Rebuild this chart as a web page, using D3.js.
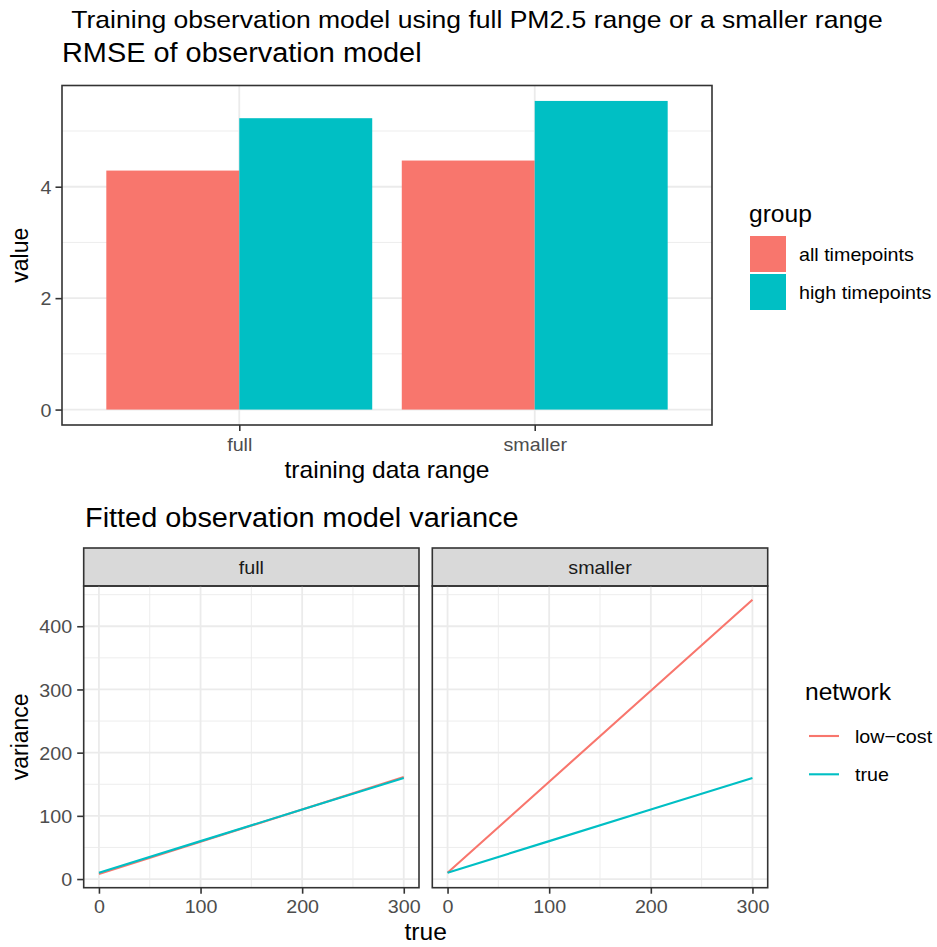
<!DOCTYPE html>
<html>
<head>
<meta charset="utf-8">
<script src="https://cdn.jsdelivr.net/npm/d3@7"></script>
<style>
  body { margin: 0; background: #fff; }
  text { font-family: "Liberation Sans", Arial, Helvetica, sans-serif; }
</style>
</head>
<body>
<svg id="chart" width="937" height="947"></svg>
<script>
// ---- RMSE bar chart ----
const rangeCategories = ["full", "smaller"];
const rmseGroups = ["all timepoints", "high timepoints"];
const rmseAllTimepoints = [4.29, 4.47];
const rmseHighTimepoints = [5.23, 5.54];
const rmseTicks = [0, 2, 4];
const rmseMinorTicks = [1, 3, 5];

// ---- Fitted variance lines (faceted by training range) ----
const facetNames = ["full", "smaller"];
const networks = ["low\u2212cost", "true"];
const trueValues = [0, 100, 200, 300];
const varianceFullLowCost = [8, 59, 110, 161.5];
const varianceFullTrue = [10, 60, 110, 160];
const varianceSmallerLowCost = [10, 154, 298, 442];
const varianceSmallerTrue = [10, 60, 110, 160];
const varianceXTicks = [0, 100, 200, 300];
const varianceXMinorTicks = [50, 150, 250];
const varianceYTicks = [0, 100, 200, 300, 400];
const varianceYMinorTicks = [50, 150, 250, 350, 450];

const colours = ["#F8766D", "#00BFC4"];
const SX = 1.07;            // horizontal glyph stretch used for all text
const FS = { top: 24.8, title: 27, axisTitle: 23, tick: 18.4 };
const GRID_MAJOR = "#EBEBEB", BORDER = "#333333", TICK_TEXT = "#4D4D4D";

const svg = d3.select("#chart");

function label(parent, x, y, str, opt) {
  const o = Object.assign({ size: FS.tick, anchor: "start", fill: "#000", rotate: false }, opt);
  return parent.append("text")
    .attr("transform", `translate(${x},${y}) scale(${SX},1)` + (o.rotate ? " rotate(-90)" : ""))
    .attr("text-anchor", o.anchor)
    .attr("font-size", o.size)
    .attr("fill", o.fill)
    .text(str);
}

function expandDomain(lo, hi) {
  const pad = (hi - lo) * 0.05;
  return [lo - pad, hi + pad];
}

function styleAxis(g, side) {
  g.select(".domain").remove();
  g.selectAll(".tick line").attr("stroke", BORDER).attr("stroke-width", 1.6);
  g.selectAll(".tick text")
    .attr("fill", TICK_TEXT)
    .attr("font-size", FS.tick)
    .attr("font-family", null);
  if (side === "left") {
    g.selectAll(".tick text").each(function () {
      const t = d3.select(this);
      const x = +t.attr("x");
      t.attr("x", x / SX).attr("dy", "0.36em").attr("transform", `scale(${SX},1)`);
    });
  } else {
    g.selectAll(".tick text").attr("transform", `scale(${SX},1)`);
  }
}

// overall heading
label(svg, 477, 27.5, "Training observation model using full PM2.5 range or a smaller range",
  { size: FS.top, anchor: "middle" });

// ================= top: RMSE bars =================
const P1 = { left: 62, right: 712, top: 85.5, bottom: 425 };
const barPlot = svg.append("g");

const x1 = d3.scaleLinear().domain([0.4, rangeCategories.length + 0.6]).range([P1.left, P1.right]);
const rmseMax = d3.max(rmseAllTimepoints.concat(rmseHighTimepoints));
const y1 = d3.scaleLinear().domain(expandDomain(0, rmseMax)).range([P1.bottom, P1.top]);

label(barPlot, 62, 62, "RMSE of observation model", { size: FS.title });

const grid1 = barPlot.append("g");
grid1.selectAll("line.minor").data(rmseMinorTicks).join("line")
  .attr("x1", P1.left).attr("x2", P1.right)
  .attr("y1", d => y1(d)).attr("y2", d => y1(d))
  .attr("stroke", GRID_MAJOR).attr("stroke-width", 0.9);
grid1.selectAll("line.majorY").data(rmseTicks).join("line")
  .attr("x1", P1.left).attr("x2", P1.right)
  .attr("y1", d => y1(d)).attr("y2", d => y1(d))
  .attr("stroke", GRID_MAJOR).attr("stroke-width", 1.8);
grid1.selectAll("line.majorX").data(rangeCategories).join("line")
  .attr("x1", (d, i) => x1(i + 1)).attr("x2", (d, i) => x1(i + 1))
  .attr("y1", P1.top).attr("y2", P1.bottom)
  .attr("stroke", GRID_MAJOR).attr("stroke-width", 1.8);

// dodged bars: each category has width 0.9 split between the two groups
const barRows = [];
rangeCategories.forEach((c, i) => {
  barRows.push({ i, g: 0, v: rmseAllTimepoints[i] });
  barRows.push({ i, g: 1, v: rmseHighTimepoints[i] });
});
barPlot.append("g").selectAll("rect").data(barRows).join("rect")
  .attr("x", d => x1(d.i + 1 - 0.45 + d.g * 0.45))
  .attr("width", d => x1(d.i + 1 - 0.45 + (d.g + 1) * 0.45) - x1(d.i + 1 - 0.45 + d.g * 0.45))
  .attr("y", d => y1(d.v))
  .attr("height", d => y1(0) - y1(d.v))
  .attr("fill", d => colours[d.g]);

barPlot.append("rect")
  .attr("x", P1.left).attr("y", P1.top)
  .attr("width", P1.right - P1.left).attr("height", P1.bottom - P1.top)
  .attr("fill", "none").attr("stroke", BORDER).attr("stroke-width", 1.6);

const ax1y = barPlot.append("g").attr("transform", `translate(${P1.left},0)`)
  .call(d3.axisLeft(y1).tickValues(rmseTicks).tickSize(6.5).tickPadding(4).tickFormat(d3.format("d")));
styleAxis(ax1y, "left");
const ax1x = barPlot.append("g").attr("transform", `translate(0,${P1.bottom})`)
  .call(d3.axisBottom(x1).tickValues(rangeCategories.map((c, i) => i + 1))
    .tickSize(6).tickPadding(7).tickFormat(d => rangeCategories[d - 1]));
styleAxis(ax1x, "bottom");

label(barPlot, (P1.left + P1.right) / 2, 478, "training data range", { size: FS.axisTitle, anchor: "middle" });
label(barPlot, 28, (P1.top + P1.bottom) / 2, "value", { size: FS.axisTitle, anchor: "middle", rotate: true });

// legend: group
const leg1 = barPlot.append("g");
label(leg1, 749, 222, "group", { size: FS.axisTitle });
rmseGroups.forEach((g, j) => {
  const y0 = 236 + j * 38;
  leg1.append("rect").attr("x", 750).attr("y", y0).attr("width", 36).attr("height", 36)
    .attr("fill", colours[j]);
  label(leg1, 799, y0 + 18 + 6.6, g, { size: FS.tick });
});

// ================= bottom: fitted variance =================
const P2 = { top: 586, bottom: 887.7, stripTop: 548 };
const panelX = [[83.7, 419], [432.3, 767.7]];
const linePlot = svg.append("g");

label(linePlot, 85, 527, "Fitted observation model variance", { size: FS.title });

const series = [
  [varianceFullLowCost, varianceFullTrue],
  [varianceSmallerLowCost, varianceSmallerTrue]
];
const allVar = series.flat(2);
const y2 = d3.scaleLinear().domain(expandDomain(d3.min(allVar), d3.max(allVar))).range([P2.bottom, P2.top]);

facetNames.forEach((name, f) => {
  const [L, R] = panelX[f];
  const x2 = d3.scaleLinear().domain(expandDomain(d3.min(trueValues), d3.max(trueValues))).range([L, R]);
  const p = linePlot.append("g");

  // strip
  p.append("rect").attr("x", L).attr("y", P2.stripTop).attr("width", R - L).attr("height", P2.top - P2.stripTop)
    .attr("fill", "#D9D9D9").attr("stroke", BORDER).attr("stroke-width", 1.6);
  label(p, (L + R) / 2, 573.5, name, { size: FS.tick, anchor: "middle", fill: "#1A1A1A" });

  // grid
  p.selectAll("line.ymin").data(varianceYMinorTicks.filter(d => y2(d) > P2.top)).join("line")
    .attr("x1", L).attr("x2", R).attr("y1", d => y2(d)).attr("y2", d => y2(d))
    .attr("stroke", GRID_MAJOR).attr("stroke-width", 0.9);
  p.selectAll("line.xmin").data(varianceXMinorTicks).join("line")
    .attr("x1", d => x2(d)).attr("x2", d => x2(d)).attr("y1", P2.top).attr("y2", P2.bottom)
    .attr("stroke", GRID_MAJOR).attr("stroke-width", 0.9);
  p.selectAll("line.ymaj").data(varianceYTicks).join("line")
    .attr("x1", L).attr("x2", R).attr("y1", d => y2(d)).attr("y2", d => y2(d))
    .attr("stroke", GRID_MAJOR).attr("stroke-width", 1.8);
  p.selectAll("line.xmaj").data(varianceXTicks).join("line")
    .attr("x1", d => x2(d)).attr("x2", d => x2(d)).attr("y1", P2.top).attr("y2", P2.bottom)
    .attr("stroke", GRID_MAJOR).attr("stroke-width", 1.8);

  // lines
  const line = d3.line().x((d, i) => x2(trueValues[i])).y(d => y2(d));
  series[f].forEach((vals, k) => {
    p.append("path").datum(vals).attr("d", line)
      .attr("fill", "none").attr("stroke", colours[k]).attr("stroke-width", 2.1);
  });

  p.append("rect").attr("x", L).attr("y", P2.top).attr("width", R - L).attr("height", P2.bottom - P2.top)
    .attr("fill", "none").attr("stroke", BORDER).attr("stroke-width", 1.6);

  const ax = p.append("g").attr("transform", `translate(0,${P2.bottom})`)
    .call(d3.axisBottom(x2).tickValues(varianceXTicks).tickSize(6).tickPadding(6).tickFormat(d3.format("d")));
  styleAxis(ax, "bottom");

  if (f === 0) {
    const ay = p.append("g").attr("transform", `translate(${L},0)`)
      .call(d3.axisLeft(y2).tickValues(varianceYTicks).tickSize(6.5).tickPadding(5).tickFormat(d3.format("d")));
    styleAxis(ay, "left");
  }
});

label(linePlot, (panelX[0][0] + panelX[1][1]) / 2, 940, "true", { size: FS.axisTitle, anchor: "middle" });
label(linePlot, 28, (P2.top + P2.bottom) / 2, "variance", { size: FS.axisTitle, anchor: "middle", rotate: true });

// legend: network
const leg2 = linePlot.append("g");
label(leg2, 805, 700, "network", { size: FS.axisTitle });
networks.forEach((n, k) => {
  const yc = 736 + k * 38.3;
  leg2.append("line").attr("x1", 809).attr("x2", 839).attr("y1", yc).attr("y2", yc)
    .attr("stroke", colours[k]).attr("stroke-width", 2.1);
  label(leg2, 855, yc + 6.6, n, { size: FS.tick });
});
</script>
</body>
</html>
